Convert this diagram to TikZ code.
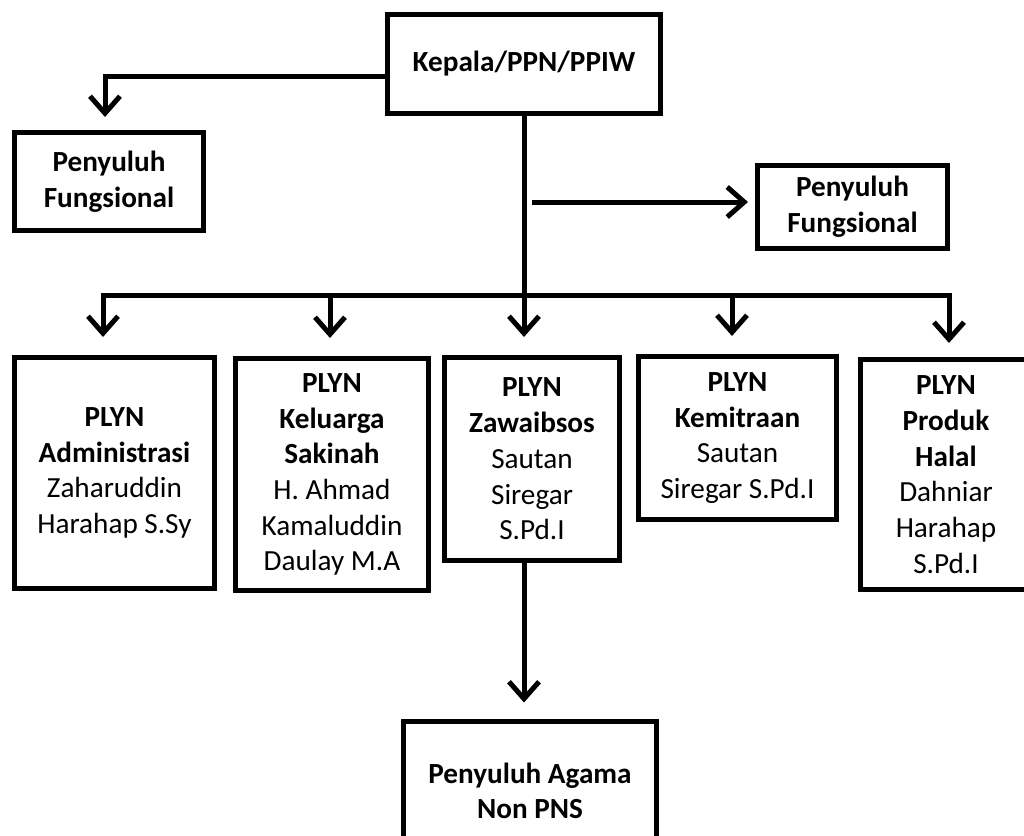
\documentclass[tikz,border=0pt]{standalone}
\usepackage{fontspec}
\setmainfont{Carlito}
\usetikzlibrary{arrows.meta}
\tikzset{
  box/.style={draw=black, line width=2.5pt, align=center, inner sep=2pt,
    font=\fontsize{14.6}{17.85}\selectfont},
  conn/.style={line width=2.5pt},
  arr/.style={conn, -{Straight Barb[length=8.5pt,width=15pt]}}
}
\begin{document}
\begin{tikzpicture}[x=0.5pt,y=-0.5pt]
\useasboundingbox (0,0) rectangle (1024,836);
\clip (0,0) rectangle (1024,836);
\fill[white] (0,0) rectangle (1024,836);
% boxes
\node[box, minimum width=136.5pt, minimum height=49.5pt] (kepala) at (524,64) {\textbf{Kepala/PPN/PPIW}};
\node[box, minimum width=94.5pt, minimum height=49pt] (pfl) at (109,181.5) {\textbf{Penyuluh}\\\textbf{Fungsional}};
\node[box, minimum width=95pt, minimum height=41.5pt] (pfr) at (852.5,207) {\textbf{Penyuluh}\\\textbf{Fungsional}};
\node[box, minimum width=100pt, minimum height=115.5pt] (adm) at (114.5,473) {\textbf{PLYN}\\\textbf{Administrasi}\\Zaharuddin\\Harahap S.Sy};
\node[box, minimum width=96.5pt, minimum height=116pt] (kel) at (332,474.5) {\textbf{PLYN}\\\textbf{Keluarga}\\\textbf{Sakinah}\\H. Ahmad\\Kamaluddin\\Daulay M.A};
\node[box, minimum width=87.5pt, minimum height=101.5pt] (zaw) at (532,459) {\textbf{PLYN}\\\textbf{Zawaibsos}\\Sautan\\Siregar\\S.Pd.I};
\node[box, minimum width=99pt, minimum height=81.5pt] (kem) at (737.5,438) {\textbf{PLYN}\\\textbf{Kemitraan}\\Sautan\\Siregar S.Pd.I};
\node[box, minimum width=85.5pt, minimum height=115pt] (prod) at (946,474.5) {\textbf{PLYN}\\\textbf{Produk}\\\textbf{Halal}\\Dahniar\\Harahap\\S.Pd.I};
\node[box, minimum width=126.5pt, minimum height=70pt] (agama) at (530,791) {\textbf{Penyuluh Agama}\\\textbf{Non PNS}};
% coordinates
\coordinate (lc) at (105,76);
\coordinate (a1) at (103,295);
\coordinate (a2) at (330,295);
\coordinate (a3) at (524,295);
\coordinate (a4) at (732,295);
\coordinate (a5) at (949,295);
\coordinate (rs) at (532,202);
% connectors
\draw[arr, shorten >=6.5pt] (kepala.west |- lc) -- (lc) -- (lc |- pfl.north);
\draw[conn] ([xshift=-1.25pt]a1) -- ([xshift=1.25pt]a5);
\draw[arr, shorten >=9pt] (kepala.south -| a3) -- (a3 |- zaw.north);
\draw[arr, shorten >=9pt] (a1) -- (a1 |- adm.north);
\draw[arr, shorten >=9pt] (a2) -- (a2 |- kel.north);
\draw[arr, shorten >=9pt] (a4) -- (a4 |- kem.north);
\draw[arr, shorten >=7pt] (a5) -- (a5 |- prod.north);
\draw[arr, shorten >=3.5pt] (rs) -- (rs -| pfr.west);
\draw[arr, shorten >=8pt] (zaw.south -| a3) -- (a3 |- agama.north);
\end{tikzpicture}
\end{document}
